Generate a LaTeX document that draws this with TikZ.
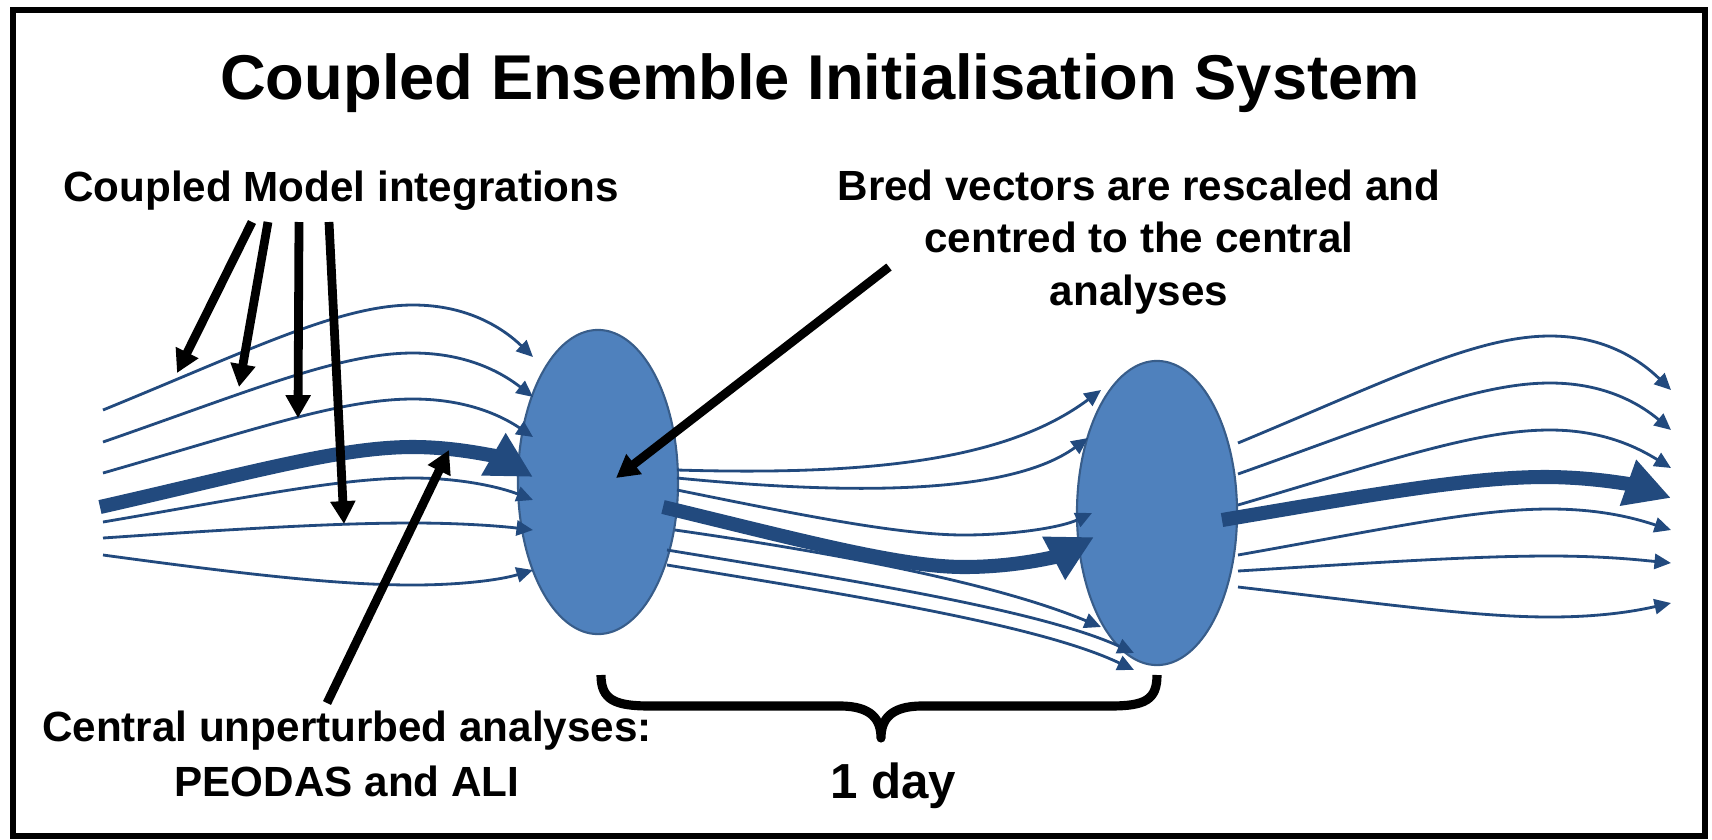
\documentclass[tikz,border=0pt]{standalone}
\usepackage{fontspec}
\setmainfont{Liberation Sans}
\usetikzlibrary{arrows.meta,shapes.geometric}
\definecolor{flowblue}{RGB}{34,74,126}
\definecolor{cellfill}{RGB}{79,129,189}
\definecolor{celledge}{RGB}{56,93,138}
\tikzset{
  cell/.style={ellipse, draw=celledge, fill=cellfill, line width=0.6pt,
    inner sep=0pt, outer sep=0pt, minimum width=1.6cm, minimum height=3.04cm},
  flow/.style={draw=flowblue, line width=0.8pt, -{Triangle[width=4.3pt,length=4.7pt]}},
  mainflow/.style={draw=flowblue, line width=4pt, -{Triangle[width=13pt,length=13pt]}},
  pointer/.style={draw=black, line width=2.5pt, -{Triangle[width=6.8pt,length=6.5pt]}},
  label/.style={font=\bfseries\fontsize{12}{14.8}\selectfont, align=center, inner sep=0pt},
  brace/.style={draw=black, line width=2.6pt, line join=round},
  frame/.style={draw=black, line width=1.85pt}
}
\begin{document}
\begin{tikzpicture}[x=0.01cm, y=-0.01cm]
\useasboundingbox (0,0) rectangle (1712,839);
\draw[frame] (13,10) rectangle (1705,836);

% title and labels (multi-line labels are anchored at the baseline of their last line)
\node[font=\bfseries\fontsize{18}{22}\selectfont, anchor=base, inner sep=0pt] (title) at (820,99)
  {Coupled Ensemble Initialisation System};
\node[label, anchor=base] (models) at (341,201) {Coupled Model integrations};
\node[label, anchor=base] (bred) at (1139,305)
  {Bred vectors are rescaled and\\centred to the central\\analyses};
\node[label, anchor=base, font=\bfseries\fontsize{12}{15.6}\selectfont] (central) at (347,796)
  {Central unperturbed analyses:\\PEODAS and ALI};
\node[font=\bfseries\fontsize{14}{17}\selectfont, anchor=base, inner sep=0pt] (day) at (893,798) {1 day};

% analysis ellipses
\node[cell] (e1) at (598,482) {};
\node[cell] (e2) at (1157,513) {};

% incoming ensemble trajectories
\draw[flow] (103,410) .. controls (250,350) and (340,305) .. (413,305)
  .. controls (470,305) and (505,330) .. (533,357);
\draw[flow] (103,442) .. controls (250,391) and (340,353) .. (413,353)
  .. controls (470,353) and (505,375) .. (533,397);
\draw[flow] (103,473) .. controls (250,431) and (340,399) .. (413,399)
  .. controls (470,399) and (505,418) .. (533,437);
\draw[flow] (103,522) .. controls (250,497) and (340,478) .. (413,478)
  .. controls (460,478) and (500,487) .. (533,500);
\draw[flow] (103,538) .. controls (250,528) and (340,523) .. (413,523)
  .. controls (460,523) and (500,526) .. (533,530);
\draw[flow] (103,555) .. controls (250,575) and (340,585) .. (413,585)
  .. controls (460,585) and (500,580) .. (533,570);
\draw[mainflow] (100,507) .. controls (250,473) and (340,447) .. (413,447)
  .. controls (460,447) and (500,458) .. (533,477);

% trajectories between the two analyses
\draw[flow] (677,470) .. controls (880,476) and (1010,458) .. (1101,390);
\draw[flow] (677,478) .. controls (850,495) and (1010,495) .. (1088,438);
\draw[flow] (677,490) .. controls (800,515) and (900,535) .. (964,535)
  .. controls (1010,535) and (1060,528) .. (1092,513);
\draw[flow] (675,530) .. controls (850,555) and (1000,585) .. (1101,627);
\draw[flow] (667,550) .. controls (850,580) and (1040,610) .. (1134,653);
\draw[flow] (667,565) .. controls (850,595) and (1040,625) .. (1134,670);
\draw[mainflow] (663,507) .. controls (800,540) and (900,567) .. (964,567)
  .. controls (1020,567) and (1060,555) .. (1094,537);

% outgoing trajectories
\draw[flow] (1238,443) .. controls (1385,382) and (1475,336) .. (1550,336)
  .. controls (1605,336) and (1640,360) .. (1671,390);
\draw[flow] (1238,474) .. controls (1385,422) and (1475,383) .. (1550,383)
  .. controls (1605,383) and (1640,404) .. (1671,430);
\draw[flow] (1238,505) .. controls (1385,462) and (1475,430) .. (1550,430)
  .. controls (1605,430) and (1640,449) .. (1671,468);
\draw[flow] (1238,555) .. controls (1385,529) and (1475,509) .. (1550,509)
  .. controls (1605,509) and (1640,520) .. (1671,530);
\draw[flow] (1238,571) .. controls (1385,562) and (1475,556) .. (1550,556)
  .. controls (1605,556) and (1640,560) .. (1671,563);
\draw[flow] (1238,587) .. controls (1385,604) and (1475,617) .. (1550,617)
  .. controls (1605,617) and (1640,610) .. (1671,603);
\draw[mainflow] (1222,520) .. controls (1370,495) and (1470,477) .. (1545,477)
  .. controls (1600,477) and (1640,487) .. (1671,498);

% one-day brace
\coordinate (bl) at (601,675);
\coordinate (bm) at (881,738);
\coordinate (br) at (1157,675);
\draw[brace] (bl) .. controls (601,700) and (615,706) .. (650,706) -- (840,706)
  .. controls (872,706) and (881,720) .. (bm)
  .. controls (881,720) and (890,706) .. (922,706) -- (1110,706)
  .. controls (1145,706) and (1157,700) .. (br);

% pointers
\coordinate (m1) at (252,222);
\coordinate (m2) at (268,222);
\coordinate (m3) at (299,222);
\coordinate (m4) at (329,222);
\coordinate (t1) at (177,373);
\coordinate (t2) at (239,387);
\coordinate (t3) at (298,418);
\coordinate (t4) at (344,524);
\draw[pointer] (m1) -- (t1);
\draw[pointer] (m2) -- (t2);
\draw[pointer] (m3) -- (t3);
\draw[pointer] (m4) -- (t4);
\coordinate (cs) at (327,703);
\coordinate (ct) at (449,450);
\draw[pointer] (cs) -- (ct);
\coordinate (bs) at (889,267);
\coordinate (bt) at (616,478);
\draw[pointer] (bs) -- (bt);
\end{tikzpicture}
\end{document}
